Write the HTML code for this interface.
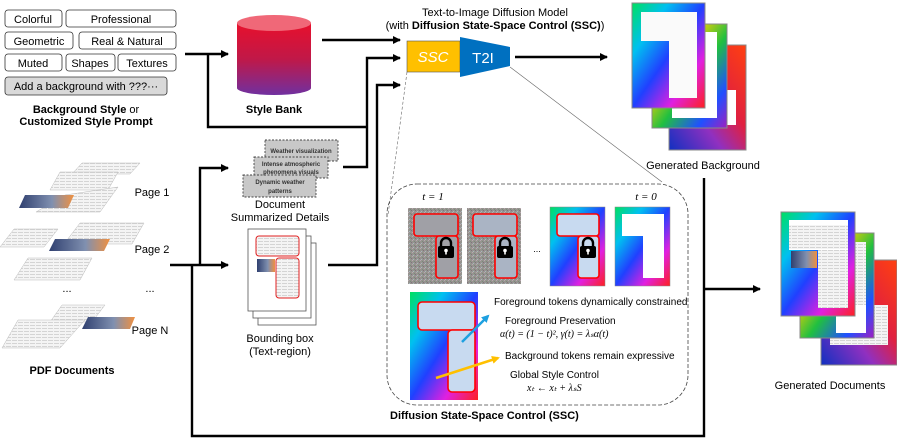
<!DOCTYPE html>
<html><head><meta charset="utf-8"><style>
body{margin:0;background:#fff}
svg{display:block;font-family:"Liberation Sans",sans-serif}
</style></head><body>
<svg width="897" height="440" viewBox="0 0 897 440" xmlns="http://www.w3.org/2000/svg">
<defs>
<marker id="ah" markerWidth="8" markerHeight="8" refX="7" refY="4" orient="auto" markerUnits="userSpaceOnUse"><path d="M0,0 L8,4 L0,8 z" fill="#000"/></marker>
<marker id="ahb" markerWidth="8" markerHeight="8" refX="6" refY="4" orient="auto" markerUnits="userSpaceOnUse"><path d="M0,0 L8,4 L0,8 z" fill="#1ea0e0"/></marker>
<marker id="ahy" markerWidth="8" markerHeight="8" refX="6" refY="4" orient="auto" markerUnits="userSpaceOnUse"><path d="M0,0 L8,4 L0,8 z" fill="#ffc000"/></marker>
<linearGradient id="cyl" x1="0" y1="0" x2="0" y2="1"><stop offset="0" stop-color="#e8102c"/><stop offset="0.5" stop-color="#c01848"/><stop offset="1" stop-color="#7030a0"/></linearGradient>
<linearGradient id="rb1" x1="0" y1="0" x2="1" y2="1"><stop offset="0" stop-color="#00e060"/><stop offset="0.25" stop-color="#00c0f0"/><stop offset="0.5" stop-color="#2040ff"/><stop offset="0.75" stop-color="#e020e0"/><stop offset="1" stop-color="#ff2020"/></linearGradient>
<linearGradient id="rb2" x1="0" y1="0" x2="1" y2="1"><stop offset="0" stop-color="#ff3000"/><stop offset="0.3" stop-color="#ffd000"/><stop offset="0.55" stop-color="#20c040"/><stop offset="0.8" stop-color="#2050ff"/><stop offset="1" stop-color="#a020c0"/></linearGradient>
<linearGradient id="rb3" x1="1" y1="0" x2="0" y2="1"><stop offset="0" stop-color="#ff4010"/><stop offset="0.4" stop-color="#e02040"/><stop offset="0.65" stop-color="#9030c0"/><stop offset="1" stop-color="#1030c0"/></linearGradient>
<linearGradient id="sky" x1="0" y1="0" x2="1" y2="0"><stop offset="0" stop-color="#304070"/><stop offset="0.6" stop-color="#8090b0"/><stop offset="1" stop-color="#f09040"/></linearGradient>
<pattern id="txt" width="6" height="3" patternUnits="userSpaceOnUse"><rect width="6" height="3" fill="#f4f4f4"/><rect y="1" width="5" height="1" fill="#d4d4d4"/></pattern>
<pattern id="noise" width="4" height="4" patternUnits="userSpaceOnUse"><rect width="4" height="4" fill="#96948f"/><rect width="1" height="1" fill="#b8a8b0"/><rect x="2" y="1" width="1" height="1" fill="#7a8a7a"/><rect x="1" y="3" width="1" height="1" fill="#a8b8c0"/><rect x="3" y="2" width="1" height="1" fill="#807080"/></pattern>
<g id="lock"><path d="M-5,-1 v-3 a5,5 0 0 1 10,0 v3" fill="none" stroke="#000" stroke-width="2.4"/><rect x="-8" y="-1" width="16" height="12" rx="2" fill="#000"/><circle cx="0" cy="3.5" r="1.8" fill="#fff"/><rect x="-0.8" y="3.5" width="1.6" height="4" fill="#fff"/></g>
</defs>

<g stroke="#333" stroke-width="0.8">
<rect x="5" y="10" width="57" height="17" rx="3" fill="#fff"/><rect x="66" y="10" width="110" height="17" rx="3" fill="#fff"/>
<rect x="5" y="32" width="68" height="17" rx="3" fill="#fff"/><rect x="79" y="32" width="97" height="17" rx="3" fill="#fff"/>
<rect x="5" y="54" width="57" height="17" rx="3" fill="#fff"/><rect x="66" y="54" width="49" height="17" rx="3" fill="#fff"/><rect x="118" y="54" width="58" height="17" rx="3" fill="#fff"/>
<rect x="5" y="77" width="162" height="18" rx="3" fill="#d9d9d9"/>
</g>
<g font-size="11" text-anchor="middle" fill="#000">
<text x="33" y="23">Colorful</text><text x="121" y="23">Professional</text>
<text x="39" y="45">Geometric</text><text x="127" y="45">Real &amp; Natural</text>
<text x="33" y="67">Muted</text><text x="90" y="67">Shapes</text><text x="147" y="67">Textures</text>
<text x="86" y="90">Add a background with ???···</text>
<text x="86" y="113"><tspan font-weight="bold">Background Style</tspan> or</text>
<text x="86" y="125" font-weight="bold">Customized Style Prompt</text>
</g>

<path d="M237,23 V88 A37,7 0 0 0 311,88 V23 Z" fill="url(#cyl)"/>
<ellipse cx="274" cy="23" rx="37" ry="8" fill="#f06878"/>
<text x="274" y="113" font-size="11" font-weight="bold" text-anchor="middle">Style Bank</text>

<g stroke="#000" stroke-width="2.4" fill="none">
<path d="M185,54 H228" marker-end="url(#ah)"/>
<path d="M208,54 V127 H367"/>
<path d="M322,40 H400" marker-end="url(#ah)"/>
<path d="M343,167 H367 V58 H400" marker-end="url(#ah)"/>
<path d="M328,265 H377 V85 H400" marker-end="url(#ah)"/>
<path d="M515,57 H607" marker-end="url(#ah)"/>
<path d="M170,265 H228" marker-end="url(#ah)"/>
<path d="M200,265 V168 H228" marker-end="url(#ah)"/>
<path d="M192,265 V436 H704 V178"/>
<path d="M704,289 H760" marker-end="url(#ah)"/>
</g>

<text x="495" y="16" font-size="11" text-anchor="middle">Text-to-Image Diffusion Model</text>
<text x="495" y="29" font-size="11" text-anchor="middle">(with <tspan font-weight="bold">Diffusion State-Space Control (SSC)</tspan>)</text>
<rect x="407" y="41" width="53" height="31" fill="#ffc000" stroke="#555" stroke-width="0.6"/>
<text x="433" y="62" font-size="15" font-style="italic" fill="#fff" text-anchor="middle">SSC</text>
<polygon points="460,37 510,47 510,66 460,77" fill="#0070c0"/>
<text x="483" y="63" font-size="15" fill="#fff" text-anchor="middle">T2I</text>
<line x1="407" y1="72" x2="388" y2="215" stroke="#666" stroke-width="0.6" stroke-dasharray="3,2"/>
<line x1="510" y1="67" x2="662" y2="182" stroke="#666" stroke-width="0.6"/>

<rect x="669" y="45" width="77" height="105" fill="url(#rb3)" stroke="#888"/>
<rect x="690" y="90" width="46" height="35" fill="#fff"/>
<rect x="652" y="24" width="75" height="104" fill="url(#rb2)" stroke="#888"/>
<rect x="672" y="32" width="45" height="86" fill="#fff"/>
<rect x="632" y="3" width="73" height="105" fill="url(#rb1)" stroke="#888"/>
<path d="M641,12 H697 V98 H669 V41 H641 Z" fill="#fafafa"/>
<text x="703" y="169" font-size="11" text-anchor="middle">Generated Background</text>

<g stroke="#444" stroke-width="0.9" stroke-dasharray="2,1.5" fill="#c8c8c8">
<rect x="265" y="140" width="73" height="21"/>
<rect x="254" y="157" width="74" height="21"/>
<rect x="243" y="175" width="73" height="22"/>
</g>
<g font-size="6" font-weight="bold" fill="#333" text-anchor="middle">
<text x="301" y="153">Weather visualization</text>
<text x="291" y="166">Intense atmospheric</text><text x="291" y="174">phenomena visuals</text>
<text x="280" y="184">Dynamic weather</text><text x="280" y="193">patterns</text>
</g>
<text x="280" y="208" font-size="11" text-anchor="middle">Document</text>
<text x="280" y="221" font-size="11" text-anchor="middle">Summarized Details</text>

<rect x="258" y="243" width="58" height="82" fill="#fff" stroke="#555" stroke-width="0.8"/>
<rect x="253" y="236" width="58" height="82" fill="#fff" stroke="#555" stroke-width="0.8"/>
<rect x="248" y="229" width="58" height="82" fill="#fff" stroke="#555" stroke-width="0.8"/>
<rect x="256" y="236" width="43" height="20" rx="3" fill="url(#txt)" stroke="#e02020" stroke-width="1"/>
<rect x="276" y="258" width="23" height="40" rx="3" fill="url(#txt)" stroke="#e02020" stroke-width="1"/>
<rect x="257" y="259" width="18" height="13" fill="url(#sky)"/>
<text x="280" y="342" font-size="11" text-anchor="middle">Bounding box</text>
<text x="280" y="355" font-size="11" text-anchor="middle">(Text-region)</text>

<g fill="url(#txt)" stroke="#bbb" stroke-width="0.5">
<polygon points="82,163 140,163 130,174 72,174"/>
<polygon points="60,172 118,172 108,190 50,190"/>
<polygon points="65,195 118,187 100,212 36,212"/>
<polygon points="14,229 58,229 44,247 0,247"/>
<polygon points="80,223 144,223 132,244 64,244"/>
<polygon points="28,258 92,258 80,280 14,280"/>
<polygon points="62,305 105,305 92,322 50,322"/>
<polygon points="18,320 85,320 60,348 2,348"/>
</g>
<polygon points="25,195 74,195 68,208 19,208" fill="url(#sky)"/>
<polygon points="55,239 110,239 104,251 49,251" fill="url(#sky)"/>
<polygon points="88,317 135,317 130,329 82,329" fill="url(#sky)"/>
<g font-size="11" text-anchor="middle">
<text x="152" y="196">Page 1</text><text x="152" y="253">Page 2</text><text x="150" y="334">Page N</text>
<text x="67" y="292">...</text><text x="150" y="292">...</text>
<text x="72" y="374" font-weight="bold">PDF Documents</text>
</g>

<rect x="387" y="184" width="301" height="221" rx="30" fill="none" stroke="#444" stroke-width="0.8" stroke-dasharray="4,2"/>
<text x="433" y="200" font-size="11" font-style="italic" font-family="Liberation Serif,serif" text-anchor="middle">t = 1</text>
<text x="646" y="200" font-size="11" font-style="italic" font-family="Liberation Serif,serif" text-anchor="middle">t = 0</text>
<rect x="408" y="208" width="54" height="76" fill="url(#noise)"/>
<rect x="414" y="214" width="44" height="22" rx="3" fill="#a0a0a6" stroke="#f00" stroke-width="1.6"/>
<rect x="436" y="236" width="22" height="42" rx="3" fill="#a0a0a6" stroke="#f00" stroke-width="1.6"/>
<use href="#lock" x="446" y="247"/>
<rect x="467" y="208" width="54" height="76" fill="url(#noise)"/>
<rect x="473" y="214" width="44" height="22" rx="3" fill="#aab4c4" stroke="#f00" stroke-width="1.6"/>
<rect x="495" y="236" width="22" height="42" rx="3" fill="#aab4c4" stroke="#f00" stroke-width="1.6"/>
<use href="#lock" x="505" y="247"/>
<text x="537" y="252" font-size="9" text-anchor="middle">...</text>
<rect x="550" y="207" width="55" height="79" fill="url(#rb1)" stroke="#888" stroke-width="0.5"/>
<rect x="557" y="214" width="42" height="22" rx="3" fill="#c8daf0" stroke="#f00" stroke-width="1.6"/>
<rect x="578" y="236" width="21" height="42" rx="3" fill="#c8daf0" stroke="#f00" stroke-width="1.6"/>
<use href="#lock" x="588" y="247"/>
<rect x="615" y="207" width="55" height="79" fill="url(#rb1)" stroke="#888" stroke-width="0.5"/>
<path d="M622,214 H664 V278 H643 V236 H622 Z" fill="#fff"/>
<rect x="410" y="292" width="68" height="108" fill="url(#rb1)"/>
<rect x="418" y="302" width="57" height="28" rx="4" fill="#c8daf0" stroke="#f00" stroke-width="1.6"/>
<rect x="448" y="330" width="27" height="62" rx="4" fill="#c8daf0" stroke="#f00" stroke-width="1.6"/>
<line x1="462" y1="342" x2="488" y2="316" stroke="#1ea0e0" stroke-width="2.5" marker-end="url(#ahb)"/>
<line x1="436" y1="378" x2="498" y2="358" stroke="#ffc000" stroke-width="2.5" marker-end="url(#ahy)"/>
<g font-size="10">
<text x="494" y="305">Foreground tokens dynamically constrained</text>
<text x="505" y="324">Foreground Preservation</text>
<text x="500" y="337" font-family="Liberation Serif,serif" font-style="italic">α(t) = (1 − t)², γ(t) = λₛα(t)</text>
<text x="505" y="359">Background tokens remain expressive</text>
<text x="510" y="378">Global Style Control</text>
<text x="527" y="391" font-family="Liberation Serif,serif" font-style="italic">xₜ ← xₜ + λₛS</text>
</g>
<text x="390" y="419" font-size="11" font-weight="bold">Diffusion State-Space Control (SSC)</text>

<rect x="821" y="260" width="76" height="105" fill="url(#rb3)" stroke="#888"/>
<rect x="830" y="305" width="58" height="40" fill="url(#txt)"/>
<rect x="800" y="233" width="74" height="105" fill="url(#rb2)" stroke="#888"/>
<rect x="836" y="242" width="30" height="70" fill="url(#txt)"/><rect x="836" y="305" width="30" height="28" fill="#fff"/>
<rect x="781" y="212" width="74" height="104" fill="url(#rb1)" stroke="#888"/>
<rect x="789" y="220" width="59" height="30" fill="#fff"/><rect x="789" y="225" width="59" height="24" fill="url(#txt)"/>
<rect x="818" y="250" width="30" height="58" fill="url(#txt)"/>
<rect x="791" y="251" width="26" height="17" fill="url(#sky)"/>
<text x="830" y="389" font-size="11" text-anchor="middle">Generated Documents</text>
</svg>
</body></html>
